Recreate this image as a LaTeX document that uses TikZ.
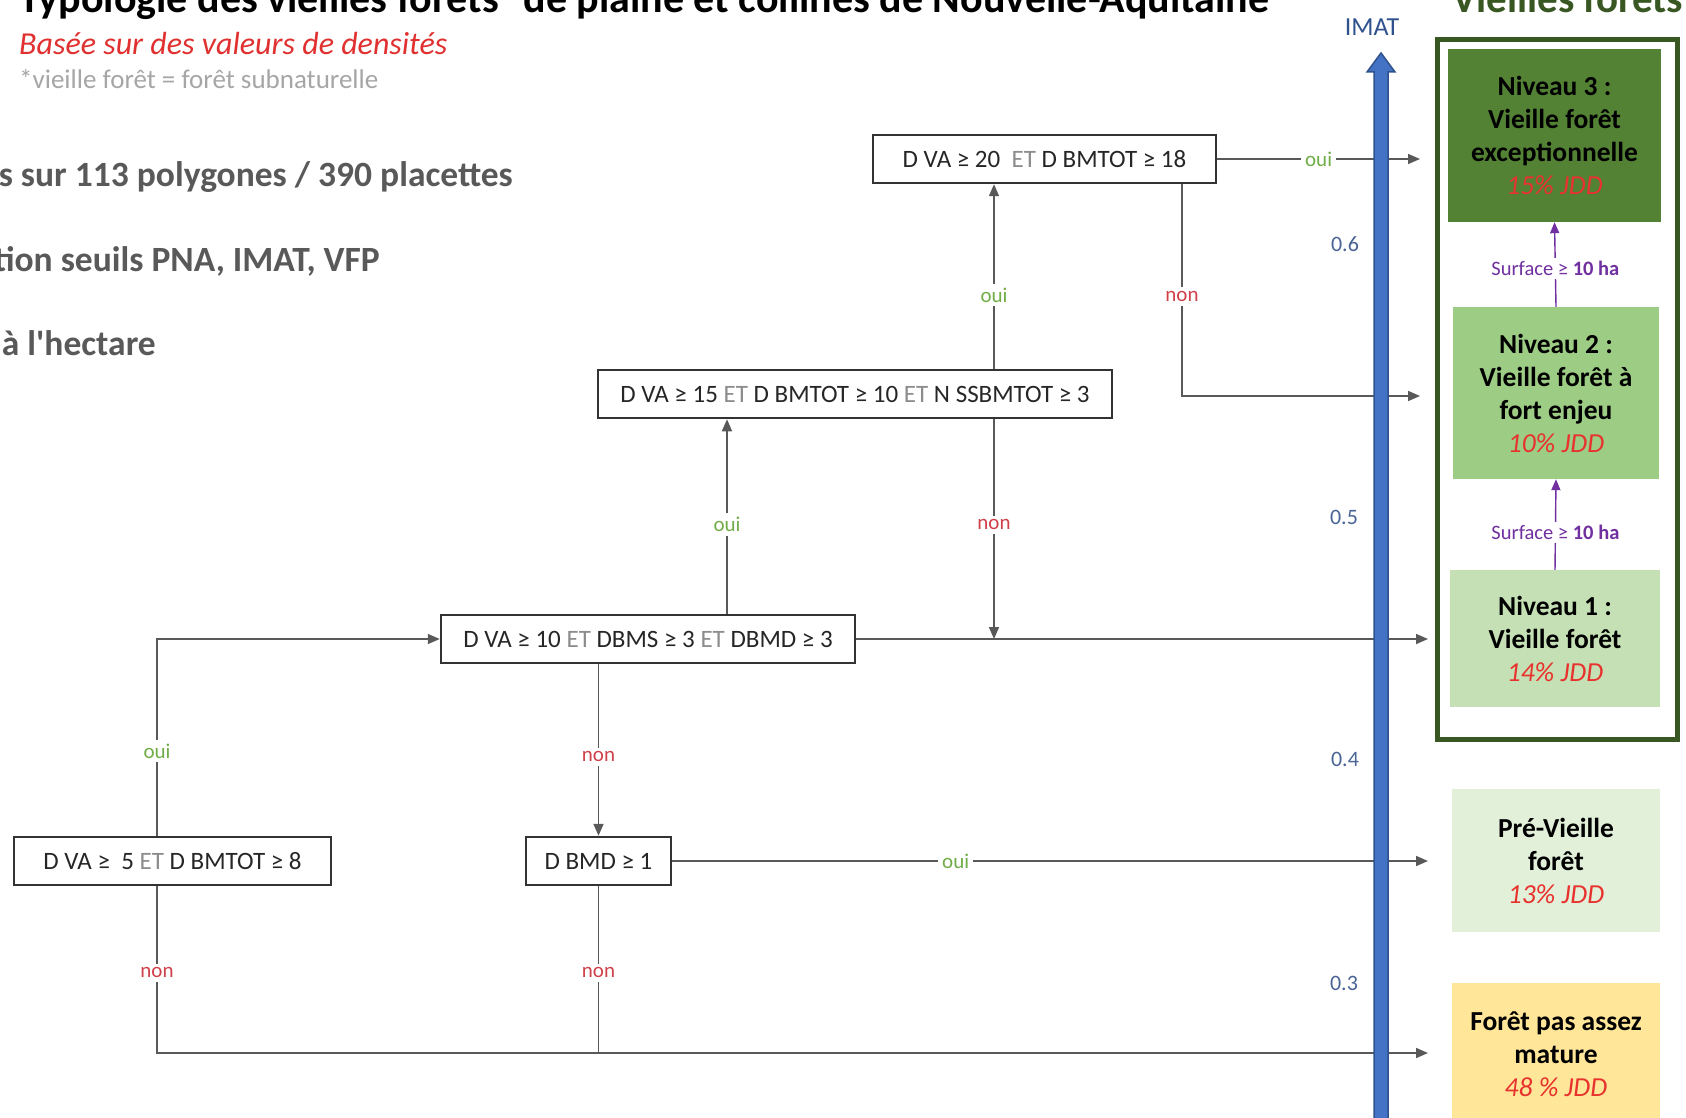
\documentclass[tikz,border=0pt]{standalone}
\usepackage{fontspec}
\setmainfont{Carlito}[Ligatures=TeXOff]
\usetikzlibrary{arrows.meta}
\definecolor{framegreen}{HTML}{385723}
\definecolor{nivthree}{HTML}{548235}
\definecolor{nivtwo}{HTML}{9DCC85}
\definecolor{nivone}{HTML}{C5E0B4}
\definecolor{nivpre}{HTML}{E2F0D9}
\definecolor{nivpas}{HTML}{FFE699}
\definecolor{jddred}{HTML}{E8322E}
\definecolor{surfpurple}{HTML}{7030A0}
\definecolor{axisblue}{HTML}{4472C4}
\definecolor{axisdark}{HTML}{2F528F}
\definecolor{ticklab}{HTML}{4A6496}
\definecolor{leftgray}{HTML}{595959}
\definecolor{notegray}{HTML}{A6A6A6}
\definecolor{subred}{HTML}{E03030}
\definecolor{ouigreen}{HTML}{70AD47}
\definecolor{nonred}{HTML}{D0404A}
\definecolor{etgray}{HTML}{8C8C8C}
\definecolor{conncol}{HTML}{595959}
\newcommand\etw{{\color{etgray}ET}}
\begin{document}
\begin{tikzpicture}[x=1pt,y=-1pt,
  cond/.style={draw=black!80, line width=2.5pt, fill=white, inner sep=0pt,
    minimum height=48pt, text=black!85, font=\fontsize{25}{29}\selectfont},
  conn/.style={draw=conncol, line width=1.6pt},
  arr/.style={conn, -{Triangle[length=12pt,width=10pt]}},
  lab/.style={fill=white, inner sep=4pt, font=\fontsize{21}{25}\selectfont},
  oui/.style={lab, text=ouigreen},
  non/.style={lab, text=nonred},
  result/.style={inner sep=0pt, align=center, text=black,
    font=\fontsize{27.5}{33}\selectfont\bfseries},
  jdd/.style={text=jddred},
  surf/.style={draw=surfpurple, line width=1.4pt, -{Triangle[length=11pt,width=9pt]}},
  surflab/.style={fill=white, inner sep=3pt, text=surfpurple, font=\fontsize{20.5}{24}\selectfont},
  tick/.style={text=ticklab, font=\fontsize{22}{26}\selectfont}
]
\useasboundingbox (0,0) rectangle (1686,1118);
\fill[white] (0,0) rectangle (1686,1118);

% titles
\node[anchor=base west, inner sep=0pt, font=\fontsize{42}{46}\selectfont\bfseries] (title) at (19,13)
  {Typologie des vieilles forêts\textsuperscript{*} de plaine et collines de Nouvelle-Aquitaine};
\node[anchor=base west, inner sep=0pt, text=subred, font=\fontsize{32}{36}\selectfont\itshape] (sub) at (19,55)
  {Basée sur des valeurs de densités};
\node[anchor=base west, inner sep=0pt, text=notegray, font=\fontsize{27}{31}\selectfont] (note) at (19,89)
  {*vieille forêt = forêt subnaturelle};
\node[anchor=base west, inner sep=0pt, text=framegreen, font=\fontsize{41}{45}\selectfont\bfseries] (vftitle) at (1452,13)
  {Vieilles forêts};

% left texts
\node[anchor=base east, inner sep=0pt, text=leftgray, font=\fontsize{35.5}{40}\selectfont\bfseries] (l1) at (513,186)
  {s sur 113 polygones / 390 placettes};
\node[anchor=base east, inner sep=0pt, text=leftgray, font=\fontsize{35.5}{40}\selectfont\bfseries] (l2) at (380,271)
  {tion seuils PNA, IMAT, VFP};
\node[anchor=base east, inner sep=0pt, text=leftgray, font=\fontsize{35.5}{40}\selectfont\bfseries] (l3) at (156,355)
  {à l'hectare};

% decision boxes
\node[cond, minimum width=343pt] (A) at (1044.5,159) {D VA ≥ 20\ \ \etw\ D BMTOT ≥ 18};
\node[cond, minimum width=514pt] (B) at (855,394) {D VA ≥ 15 \etw\ D BMTOT ≥ 10 \etw\ N SSBMTOT ≥ 3};
\node[cond, minimum width=414pt] (C) at (648,639) {D VA ≥ 10 \etw\ DBMS ≥ 3 \etw\ DBMD ≥ 3};
\node[cond, minimum width=317pt] (D) at (172.5,861) {D VA ≥\ \ 5 \etw\ D BMTOT ≥ 8};
\node[cond, minimum width=145pt] (E) at (598.5,861) {D BMD ≥ 1};

% column coordinates
\coordinate (c1) at (994,0);
\coordinate (c2) at (1182,0);
\coordinate (c3) at (727,0);
\coordinate (c4) at (157,0);
\coordinate (tA) at (1420,159);
\coordinate (tB) at (1420,396);
\coordinate (tC) at (1428,639);
\coordinate (tE) at (1428,861);
\coordinate (tF) at (1428,1053);

% connectors
\draw[arr] (A.east) -- node[oui, pos=0.5] {oui} (tA);
\draw[arr] (c1 |- B.north) -- node[oui, pos=0.40] {oui} (c1 |- A.south);
\draw[arr] (c2 |- A.south) -- node[non, pos=0.53] {non} (c2 |- tB) -- (tB);
\draw[arr] (c3 |- C.north) -- node[oui, pos=0.46] {oui} (c3 |- B.south);
\draw[arr] (c1 |- B.south) -- node[non, pos=0.48] {non} (c1 |- C.east);
\draw[arr] (C.east) -- (tC);
\draw[arr] (c4 |- D.north) -- node[oui, pos=0.43] {oui} (c4 |- C.west) -- (C.west);
\draw[arr] (E.north |- C.south) -- node[non, pos=0.54] {non} (E.north);
\draw[arr] (E.east) -- node[oui, pos=0.375] {oui} (tE);
\draw[arr] (c4 |- D.south) -- node[non, pos=0.52] {non} (c4 |- tF) -- (tF);
\draw[conn] (E.south) -- node[non, pos=0.52] {non} (E.south |- tF);

% IMAT axis
\draw[fill=axisblue, draw=axisdark, line width=1.5pt]
  (1374,1130) -- (1374,72) -- (1367,72) -- (1381,53) -- (1395,72) -- (1388,72) -- (1388,1130) -- cycle;
\node[text=axisdark, font=\fontsize{26}{30}\selectfont] (imat) at (1372,27) {IMAT};
\node[tick] (t6) at (1345,244) {0.6};
\node[tick] (t5) at (1344,517) {0.5};
\node[tick] (t4) at (1345,759) {0.4};
\node[tick] (t3) at (1344,983) {0.3};

% results
\draw[draw=framegreen, line width=5pt] (1437,40) rectangle (1677,739);
\node[result, fill=nivthree, minimum width=213pt, minimum height=173pt] (N3) at (1554.5,135.5)
  {Niveau 3 :\\Vieille forêt\\exceptionnelle\\{\itshape\mdseries\color{jddred}15\% JDD}};
\node[result, fill=nivtwo, minimum width=206pt, minimum height=172pt] (N2) at (1556,393)
  {Niveau 2 :\\Vieille forêt à\\fort enjeu\\{\itshape\mdseries\color{jddred}10\% JDD}};
\node[result, fill=nivone, minimum width=210pt, minimum height=137pt] (N1) at (1555,638.5)
  {Niveau 1 :\\Vieille forêt\\{\itshape\mdseries\color{jddred}14\% JDD}};
\node[result, fill=nivpre, minimum width=208pt, minimum height=143pt] (NP) at (1556,860.5)
  {Pré-Vieille\\forêt\\{\itshape\mdseries\color{jddred}13\% JDD}};
\node[result, fill=nivpas, minimum width=208pt, minimum height=142pt] (NF) at (1556,1054)
  {Forêt pas assez\\mature\\{\itshape\mdseries\color{jddred}48 \% JDD}};

\draw[surf] (N2.north) -- node[surflab, pos=0.45] {Surface ≥ \textbf{10 ha}} (N3.south);
\draw[surf] (N1.north) -- node[surflab, pos=0.41] {Surface ≥ \textbf{10 ha}} (N2.south);
\end{tikzpicture}
\end{document}
